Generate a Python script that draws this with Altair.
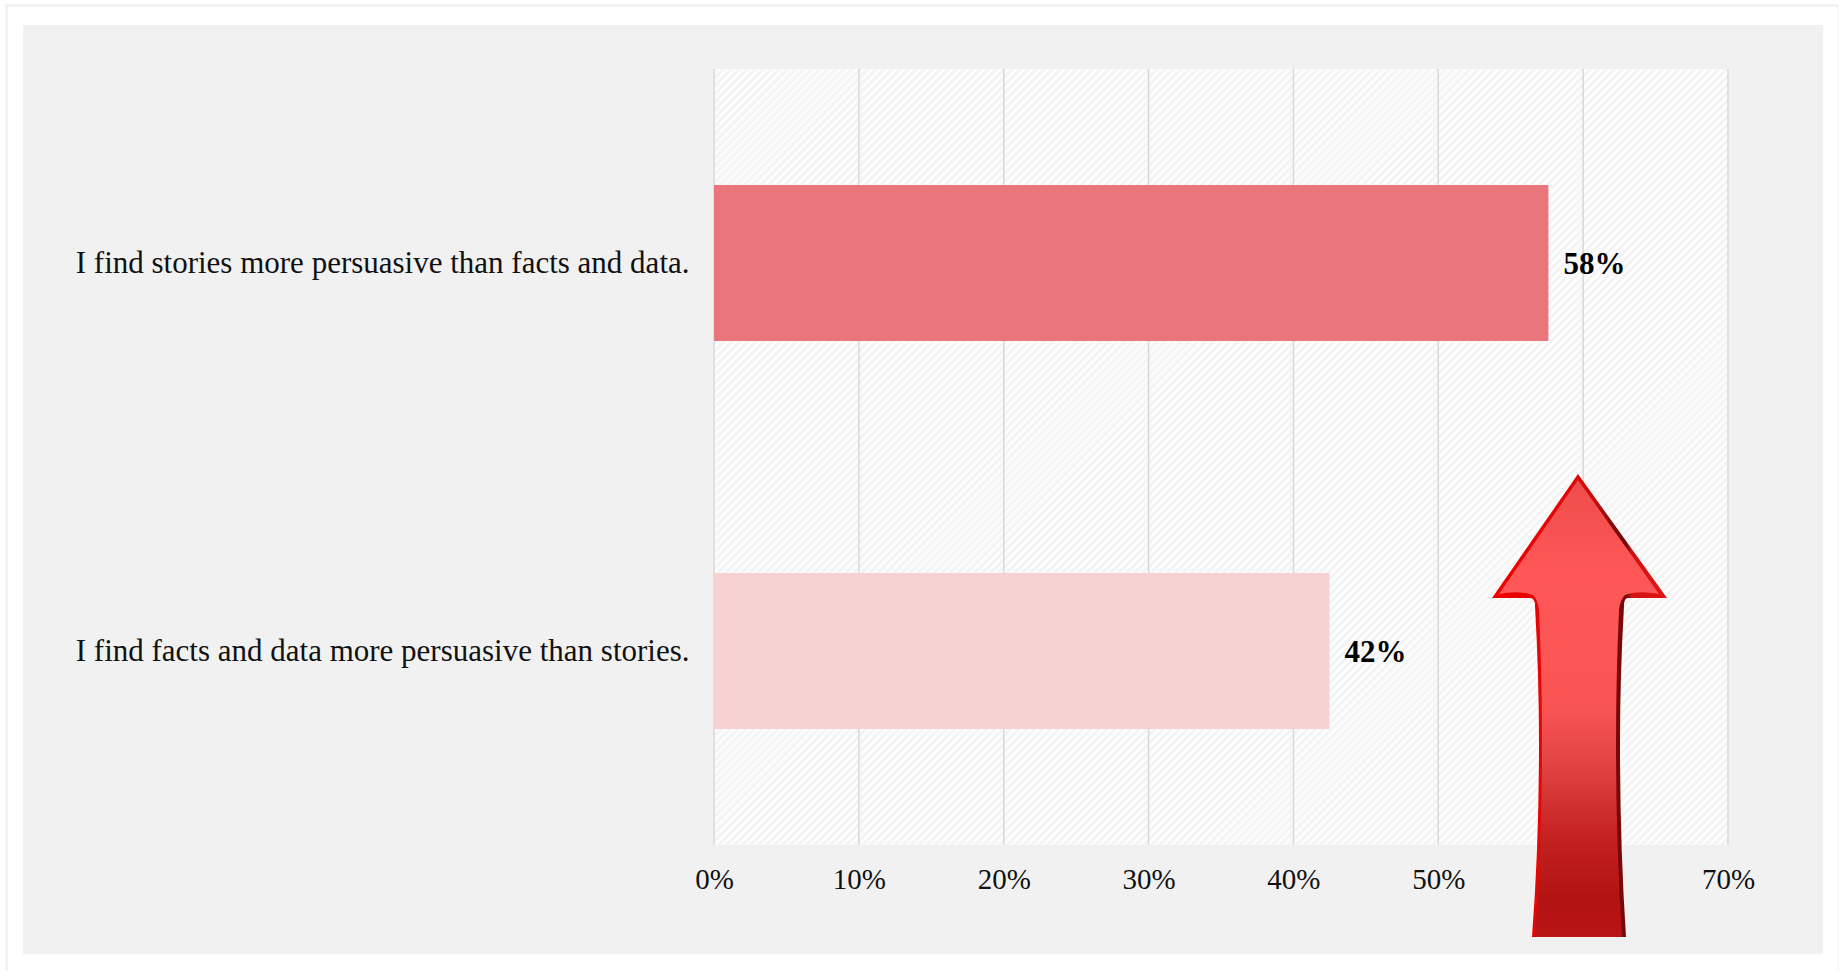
import altair as alt
import pandas as pd

categories = [
    "I find stories more persuasive than facts and data.",
    "I find facts and data more persuasive than stories.",
]
shares = [0.576, 0.4249]
bar_colors = ["#E8767A", "#F6D2D3"]
tick_values = [0, 0.1, 0.2, 0.3, 0.4, 0.5, 0.6, 0.7]

PLOT_W, PLOT_H = 1014, 776
LEFT, TOP = 714, 69
PAGE_W, PAGE_H = 1839, 971
FONT = "Liberation Serif"

df = pd.DataFrame({"statement": categories, "share": shares, "tone": bar_colors})
x_scale = alt.Scale(domain=[0, 0.7], nice=False)


def hatch_gradient(period=8):
    """Diagonal stripes: offsets advance with x + y across the plot rectangle."""
    span = PLOT_W + PLOT_H
    count = span // period
    stops = []
    for i in range(count):
        a = i / count
        step = 1 / count
        stops += [
            {"offset": a, "color": "#F4F4F4"},
            {"offset": a + step * 0.4, "color": "#F4F4F4"},
            {"offset": a + step * 0.5, "color": "#FDFDFD"},
            {"offset": a + step * 0.9, "color": "#FDFDFD"},
        ]
    scale = span / (PLOT_W * (1 + (PLOT_H / PLOT_W) ** 2))
    return alt.Gradient(
        gradient="linear",
        stops=stops,
        x1=0,
        y1=0,
        x2=scale,
        y2=scale * PLOT_H / PLOT_W,
    )


def band(x0, x1, y0, y1, color):
    """A page-level rectangle given in window pixels."""
    return (
        alt.Chart(pd.DataFrame({"a": [0]}))
        .mark_rect(color=color)
        .encode(
            x=alt.value(x0 - LEFT),
            x2=alt.value(x1 - LEFT),
            y=alt.value(y0 - TOP),
            y2=alt.value(y1 - TOP),
        )
    )


# White surround of the grey panel, with its faint outer edge
frame = [
    band(0, 23, 0, PAGE_H, "#FFFFFF"),
    band(1823, PAGE_W, 0, PAGE_H, "#FFFFFF"),
    band(0, PAGE_W, 0, 25, "#FFFFFF"),
    band(0, PAGE_W, 954, PAGE_H, "#FFFFFF"),
    band(5, 8, 5, PAGE_H, "#F3F3F3"),
    band(5, PAGE_W, 4, 7, "#F3F3F3"),
    band(PAGE_W - 1, PAGE_W, 5, PAGE_H, "#F3F3F3"),
]

hatch = band(LEFT, LEFT + PLOT_W, TOP, TOP + PLOT_H, "#FDFDFD").mark_rect(
    color=hatch_gradient()
)

grid = (
    alt.Chart(pd.DataFrame({"tick": tick_values}))
    .mark_rule(color="#D9D9D9", strokeWidth=1.5)
    .encode(x=alt.X("tick:Q", scale=x_scale))
)

bars = (
    alt.Chart(df)
    .mark_bar(size=156)
    .encode(
        x=alt.X(
            "share:Q",
            scale=x_scale,
            title=None,
            axis=alt.Axis(
                values=tick_values,
                format=".0%",
                grid=False,
                domain=False,
                ticks=False,
                labelFont=FONT,
                labelFontSize=29,
                labelColor="#111111",
                labelPadding=20,
                labelOverlap=False,
                labelFlush=False,
            ),
        ),
        y=alt.Y(
            "statement:N",
            sort=categories,
            title=None,
            scale=alt.Scale(paddingInner=0.6, paddingOuter=0.3),
            axis=alt.Axis(
                domain=False,
                ticks=False,
                grid=False,
                labelFont=FONT,
                labelFontSize=31,
                labelColor="#111111",
                labelPadding=25,
                labelLimit=700,
                labelOffset=1,
            ),
        ),
        color=alt.Color("tone:N", scale=None),
    )
)

value_labels = (
    alt.Chart(df)
    .mark_text(
        align="left",
        baseline="middle",
        dx=15,
        dy=2,
        font=FONT,
        fontSize=31,
        fontWeight="bold",
        color="#000000",
    )
    .encode(
        x="share:Q",
        y=alt.Y("statement:N", sort=categories),
        text=alt.Text("share:Q", format=".0%"),
    )
)


# Arrow outlines, in pixels around the symbol centre
ARROW_HALF = 232


def arrow_path(points):
    parts = []
    for cmd, *xy in points:
        parts.append(cmd + " ".join(f"{v / ARROW_HALF:.4f}" for v in xy))
    return " ".join(parts) + " Z"


arrow_outer = arrow_path([
    ("M", 0, -232),
    ("L", 89, -108),
    ("Q", 62, -108, 50, -108),
    ("Q", 46, -108, 46, -100),
    ("Q", 42, -30, 42, 38),
    ("Q", 42, 140, 48, 231),
    ("L", -46, 231),
    ("Q", -39, 140, -39, 38),
    ("Q", -39, -30, -43, -100),
    ("Q", -43, -108, -48, -108),
    ("Q", -62, -108, -86, -108),
])
arrow_inner = arrow_path([
    ("M", 0, -226),
    ("L", 81, -112),
    ("Q", 60, -116, 47, -111),
    ("Q", 42, -106, 41, -96),
    ("Q", 38, -30, 38, 38),
    ("Q", 38, 140, 44, 231),
    ("L", -43, 231),
    ("Q", -36, 140, -36, 38),
    ("Q", -36, -30, -39, -96),
    ("Q", -40, -106, -45, -111),
    ("Q", -60, -116, -79, -112),
])

edge_fill = alt.Gradient(
    gradient="linear",
    x1=0,
    y1=0,
    x2=1,
    y2=0,
    stops=[
        alt.GradientStop(offset=0, color="#F00000"),
        alt.GradientStop(offset=0.45, color="#E00808"),
        alt.GradientStop(offset=0.6, color="#C01010"),
        alt.GradientStop(offset=0.7, color="#7A0808"),
        alt.GradientStop(offset=0.77, color="#7A0808"),
        alt.GradientStop(offset=0.8, color="#D01414"),
        alt.GradientStop(offset=1, color="#E01414"),
    ],
)
body_fill = alt.Gradient(
    gradient="linear",
    x1=0,
    y1=0,
    x2=0,
    y2=1,
    stops=[
        alt.GradientStop(offset=0, color="#EE4C4C"),
        alt.GradientStop(offset=0.2, color="#FF5757"),
        alt.GradientStop(offset=0.5, color="#F95454"),
        alt.GradientStop(offset=0.62, color="#E24444"),
        alt.GradientStop(offset=0.78, color="#C42222"),
        alt.GradientStop(offset=0.92, color="#B31212"),
        alt.GradientStop(offset=1, color="#B81515"),
    ],
)


def arrow_layer(path, fill):
    return (
        alt.Chart(pd.DataFrame({"a": [0]}))
        .mark_point(shape=path, filled=True, fill=fill, opacity=1, strokeWidth=0)
        .encode(
            x=alt.value(1578 - LEFT),
            y=alt.value(706 - TOP),
            size=alt.value((2 * ARROW_HALF) ** 2),
        )
    )


chart = (
    alt.layer(
        *frame,
        hatch,
        grid,
        bars,
        value_labels,
        arrow_layer(arrow_outer, edge_fill),
        arrow_layer(arrow_inner, body_fill),
    )
    .properties(
        width=PLOT_W,
        height=PLOT_H,
        background="#F1F1F1",
        padding={
            "left": LEFT,
            "top": TOP,
            "right": PAGE_W - LEFT - PLOT_W,
            "bottom": PAGE_H - TOP - PLOT_H,
        },
        autosize=alt.AutoSizeParams(type="none"),
    )
    .configure_view(stroke=None)
)

chart.save("out.html", embed_options={"renderer": "svg", "actions": False})
